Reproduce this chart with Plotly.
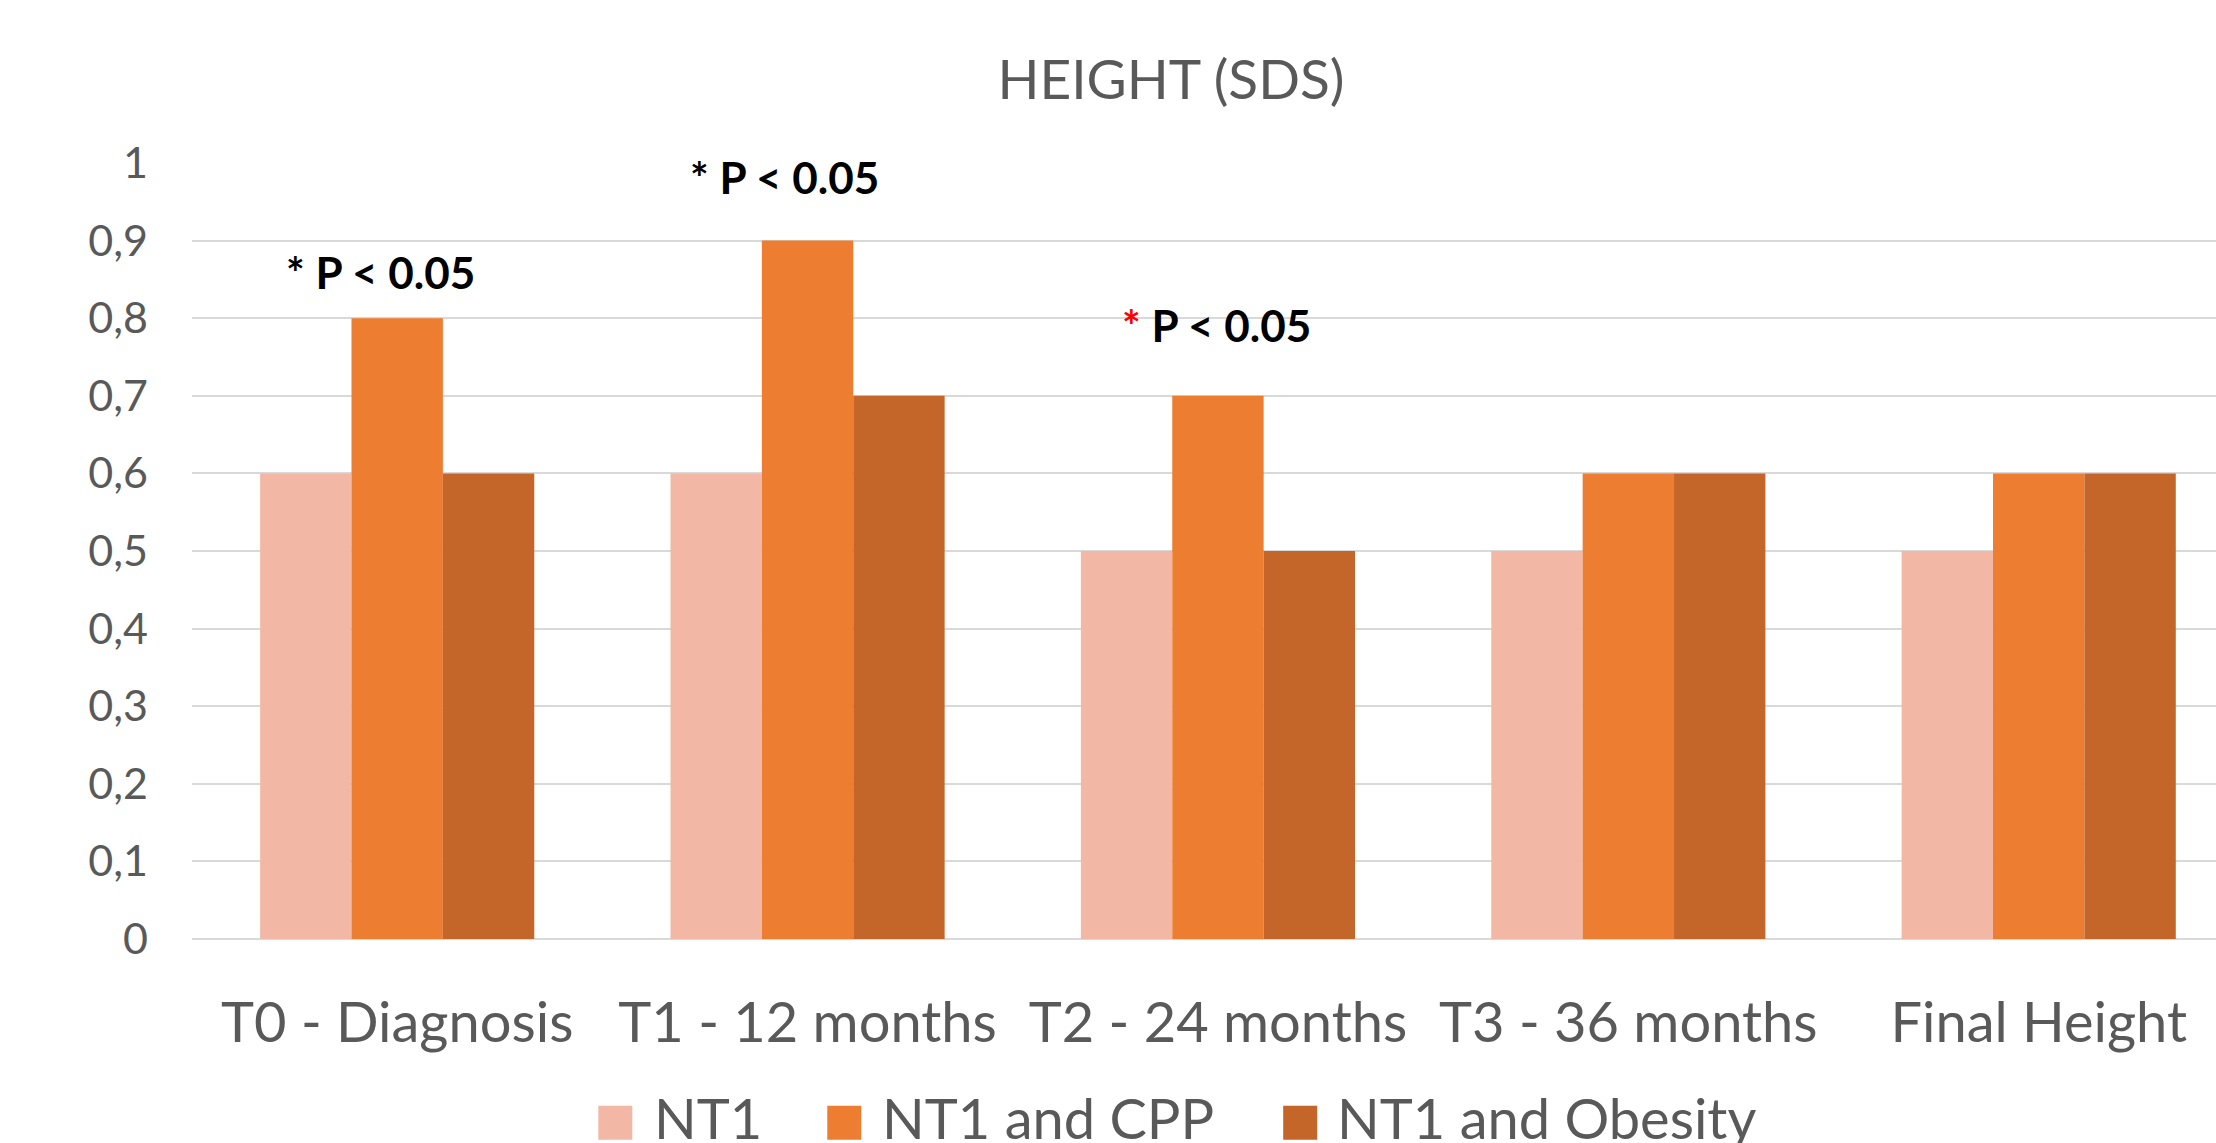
import plotly.graph_objects as go

categories = ["T0 - Diagnosis", "T1 - 12 months", "T2 - 24 months", "T3 - 36 months", "Final Height"]
series_names = ["NT1", "NT1 and CPP", "NT1 and Obesity"]
nt1 = [0.6, 0.6, 0.5, 0.5, 0.5]
nt1_cpp = [0.8, 0.9, 0.7, 0.6, 0.6]
nt1_obesity = [0.6, 0.7, 0.5, 0.6, 0.6]
colors = ["#F3B8A5", "#ED7D31", "#C4662A"]

tick_vals = [0, 0.1, 0.2, 0.3, 0.4, 0.5, 0.6, 0.7, 0.8, 0.9, 1]
tick_text = ["0", "0,1", "0,2", "0,3", "0,4", "0,5", "0,6", "0,7", "0,8", "0,9", "1"]

annot_pos = [-0.277, 1 - 0.291, 2 - 0.239]
annot_y = [0.86, 0.982, 0.791]
annot_star_color = ["black", "black", "red"]
annot_label = "P < 0.05"

# legend layout (pixel positions in the 2216x1143 canvas)
W, H = 2216, 1143
ML, MR, MT, MB = 191.6, 0, 163.3, 203.7
legend_square_x = [598, 827, 1283]
legend_text_x = [652, 880, 1335]
legend_square_top, legend_square_size = 1106, 34
legend_text_cy = 1118

TEXT = "#595959"
FONT = "Lato, 'Open Sans', sans-serif"

fig = go.Figure()
for name, vals, c in zip(series_names, [nt1, nt1_cpp, nt1_obesity], colors):
    fig.add_trace(go.Bar(x=categories, y=vals, name=name, marker=dict(color=c, line=dict(width=0)),
                         showlegend=False))

for xp, yp, sc in zip(annot_pos, annot_y, annot_star_color):
    fig.add_annotation(
        x=xp, y=yp, xref="x", yref="y", xanchor="left", yanchor="middle",
        text=f"<b><span style='color:{sc}'>*</span> {annot_label}</b>",
        showarrow=False, font=dict(family=FONT, size=44, color="black"),
    )

pw = W - ML - MR
ph = H - MT - MB
def px_to_paper_x(px):
    return (px - ML) / pw
def px_to_paper_y(py):
    return (H - MB - py) / ph

for name, c, sx, tx in zip(series_names, colors, legend_square_x, legend_text_x):
    fig.add_shape(type="rect", xref="paper", yref="paper",
                  x0=px_to_paper_x(sx), x1=px_to_paper_x(sx + legend_square_size),
                  y0=px_to_paper_y(legend_square_top + legend_square_size), y1=px_to_paper_y(legend_square_top),
                  fillcolor=c, line=dict(width=0))
    fig.add_annotation(x=px_to_paper_x(tx), y=px_to_paper_y(legend_text_cy), xref="paper", yref="paper",
                       xanchor="left", yanchor="middle", text=name, showarrow=False,
                       font=dict(family=FONT, size=56, color=TEXT))

fig.update_layout(
    width=W, height=H,
    margin=dict(l=ML, r=MR, t=MT, b=MB, pad=0),
    paper_bgcolor="white", plot_bgcolor="white",
    barmode="group", bargap=0.332, bargroupgap=0,
    title=dict(text="HEIGHT (SDS)", x=1171 / W, xref="container", y=1 - 80 / H, yref="container",
               xanchor="center", yanchor="middle", font=dict(family=FONT, size=55, color=TEXT)),
    font=dict(family=FONT, color=TEXT),
    showlegend=False,
    xaxis=dict(range=[-0.5, 4.432], showgrid=False, showline=False, zeroline=False, automargin=False,
               tickfont=dict(family=FONT, size=56, color=TEXT), ticks="", ticklabelstandoff=46),
    yaxis=dict(range=[0, 1], tickvals=tick_vals, ticktext=tick_text, showgrid=True, automargin=False,
               gridcolor="#D9D9D9", gridwidth=2, zeroline=True, zerolinecolor="#D9D9D9", zerolinewidth=2,
               showline=False, ticks="", ticklabelstandoff=43,
               tickfont=dict(family=FONT, size=43, color=TEXT)),
)

fig.write_html("out.html", config={"displayModeBar": False},
               post_script="document.body.style.margin='0px';document.body.style.overflow='hidden';")
